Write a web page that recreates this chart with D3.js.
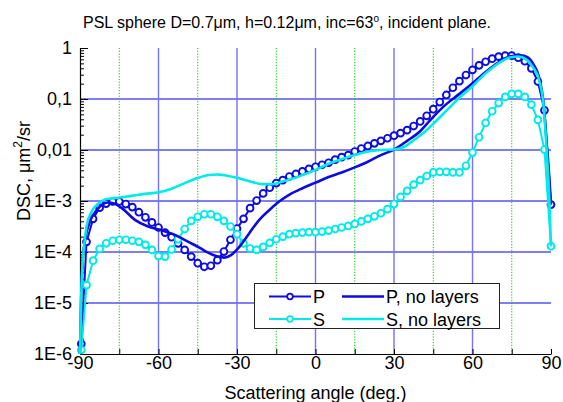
<!DOCTYPE html>
<html><head><meta charset="utf-8">
<script src="https://cdn.jsdelivr.net/npm/d3@7"></script>
<style>
html,body{margin:0;padding:0;background:#fff;}
svg text{font-family:Arial,"Liberation Sans",Helvetica,sans-serif;}
</style></head>
<body><svg id="c" width="563" height="402"></svg>
<script>
// ---- data ----
const titleText = "PSL sphere D=0.7\u03BCm, h=0.12\u03BCm, inc=63";
const xTickValues = [-90, -60, -30, 0, 30, 60, 90];
const xMinorTicks = [-75, -45, -15, 15, 45, 75];
const yTickValues = [1e-6, 1e-5, 1e-4, 1e-3, 1e-2, 1e-1, 1];
const yTickLabels = ["1E-6", "1E-5", "1E-4", "1E-3", "0,01", "0,1", "1"];
const legendNames = ["P", "S", "P, no layers", "S, no layers"];

// angles of the marker series (deg)
const markerAngles = [-89.5, -87.5, -85, -82.5, -80, -77.5, -75, -72.5, -70, -67.5, -65, -62.5, -60, -57.5, -55, -52.5, -50, -47.5, -45, -42.5, -40, -37.5, -35, -32.5, -30, -27.5, -25, -22.5, -20, -17.5, -15, -12.5, -10, -7.5, -5, -2.5, 0, 2.5, 5, 7.5, 10, 12.5, 15, 17.5, 20, 22.5, 25, 27.5, 30, 32.5, 35, 37.5, 40, 42.5, 45, 47.5, 50, 52.5, 55, 57.5, 60, 62.5, 65, 67.5, 70, 72.5, 75, 77.5, 80, 82.5, 85, 87.5, 90];
const pValues = [1.58e-6, 1.58e-4, 4.47e-4, 7.41e-4, 8.91e-4, 9.77e-4, 9.77e-4, 8.71e-4, 7.59e-4, 6.03e-4, 4.79e-4, 3.80e-4, 3.02e-4, 2.40e-4, 1.95e-4, 1.48e-4, 1.10e-4, 8.13e-5, 6.03e-5, 5.13e-5, 5.37e-5, 6.92e-5, 1.02e-4, 1.74e-4, 2.88e-4, 4.47e-4, 7.24e-4, 1.02e-3, 1.41e-3, 1.82e-3, 2.24e-3, 2.57e-3, 3.02e-3, 3.39e-3, 3.80e-3, 4.27e-3, 4.68e-3, 5.13e-3, 5.62e-3, 6.46e-3, 7.24e-3, 7.94e-3, 9.33e-3, 1.07e-2, 1.20e-2, 1.35e-2, 1.51e-2, 1.70e-2, 1.91e-2, 2.14e-2, 2.45e-2, 2.95e-2, 3.63e-2, 4.68e-2, 6.31e-2, 8.71e-2, 0.120, 0.166, 0.224, 0.295, 0.372, 0.457, 0.537, 0.617, 0.676, 0.708, 0.708, 0.646, 0.550, 0.398, 0.220, 0.0600, 8.5e-4];
const sValues = [1.2e-6, 2.24e-5, 6.76e-5, 1.15e-4, 1.48e-4, 1.66e-4, 1.74e-4, 1.74e-4, 1.66e-4, 1.58e-4, 1.38e-4, 1.10e-4, 8.32e-5, 8.13e-5, 1.12e-4, 1.78e-4, 2.82e-4, 4.07e-4, 4.90e-4, 5.50e-4, 5.50e-4, 4.90e-4, 4.07e-4, 3.16e-4, 2.24e-4, 1.48e-4, 1.17e-4, 1.10e-4, 1.26e-4, 1.51e-4, 1.78e-4, 2.00e-4, 2.24e-4, 2.34e-4, 2.40e-4, 2.45e-4, 2.45e-4, 2.51e-4, 2.63e-4, 2.82e-4, 3.02e-4, 3.24e-4, 3.55e-4, 3.98e-4, 4.47e-4, 5.01e-4, 5.75e-4, 6.92e-4, 8.71e-4, 1.20e-3, 1.58e-3, 2.09e-3, 2.57e-3, 3.09e-3, 3.63e-3, 3.72e-3, 3.72e-3, 3.63e-3, 3.63e-3, 4.90e-3, 8.91e-3, 1.78e-2, 3.39e-2, 5.75e-2, 8.32e-2, 0.110, 0.126, 0.126, 0.110, 0.0776, 0.0389, 0.0102, 1.3e-4];

// no-layer curves
const pNoLayerAngles = [-90, -89.5, -89, -88, -86.2, -83.6, -81.7, -79.5, -77, -74, -69, -64, -59, -54, -48.6, -43.5, -41.8, -38, -34.8, -32.3, -29.1, -25.3, -21.5, -17.7, -13.9, -10.1, -5, 0, 5, 10, 15, 20, 25, 30, 35, 40, 45, 50, 55, 60, 65, 70, 74.7, 78.3, 81, 83.4, 85.5, 87.2, 88.4, 89.3, 90];
const pNoLayerValues = [1e-6, 1.58e-5, 6.31e-5, 1.78e-4, 3.98e-4, 6.61e-4, 8.32e-4, 9.33e-4, 8.91e-4, 7.24e-4, 4.27e-4, 3.16e-4, 2.69e-4, 2.19e-4, 1.58e-4, 1.15e-4, 1.02e-4, 8.32e-5, 7.76e-5, 8.71e-5, 1.26e-4, 2.34e-4, 4.27e-4, 6.61e-4, 9.77e-4, 1.32e-3, 1.78e-3, 2.29e-3, 2.95e-3, 3.63e-3, 4.57e-3, 5.89e-3, 7.94e-3, 1.02e-2, 1.51e-2, 2.34e-2, 4.47e-2, 7.94e-2, 0.126, 0.204, 0.339, 0.525, 0.692, 0.72, 0.66, 0.468, 0.26, 0.0794, 0.0126, 3.2e-3, 8.51e-4];
const sNoLayerAngles = [-90, -89.5, -89, -88.5, -87.5, -85.5, -83, -80.4, -77.9, -74.9, -70.3, -65.2, -59.8, -55, -50, -45.6, -40.6, -37.5, -35.5, -30.4, -25.3, -20.2, -16.4, -12.6, -7.5, -2.4, 0, 5, 10, 15, 20, 25, 30, 34.2, 38, 41.8, 45.3, 50.4, 55.5, 60, 64.5, 69.6, 74.7, 77.5, 80.5, 83, 85.5, 87.2, 88.4, 89.3, 90];
const sNoLayerValues = [1e-6, 1.58e-5, 6.31e-5, 1.20e-4, 3.16e-4, 6.31e-4, 8.91e-4, 1.07e-3, 1.12e-3, 1.17e-3, 1.26e-3, 1.38e-3, 1.48e-3, 1.74e-3, 2.24e-3, 2.75e-3, 3.24e-3, 3.31e-3, 3.24e-3, 2.88e-3, 2.45e-3, 2.14e-3, 2.14e-3, 2.40e-3, 2.88e-3, 3.63e-3, 4.07e-3, 5.37e-3, 6.61e-3, 7.94e-3, 9.33e-3, 1.00e-2, 1.02e-2, 1.17e-2, 1.62e-2, 2.29e-2, 3.39e-2, 6.17e-2, 0.112, 0.178, 0.302, 0.490, 0.661, 0.68, 0.60, 0.427, 0.23, 0.0708, 0.0089, 1.3e-3, 1.29e-4];

// ---- layout ----
const L = 80, R = 551, T = 48, B = 354;
const colP = "#0c0ce0", colS = "#00eaea";
const FS = 18;
const svg = d3.select("#c");
const x = d3.scaleLinear().domain([-90, 90]).range([L, R]);
const y = d3.scaleLog().domain([1e-6, 1]).range([B, T]);

// gridlines
const g = svg.append("g");
g.selectAll("line.hg").data(yTickValues.filter(v => v > 1e-6 && v < 1)).join("line")
  .attr("x1", L).attr("x2", R).attr("y1", d => y(d)).attr("y2", d => y(d))
  .attr("stroke", "#0000e0").attr("stroke-width", 1.1);
g.selectAll("line.vb").data(xTickValues.filter(v => v > -90 && v < 90)).join("line")
  .attr("x1", d => x(d)).attr("x2", d => x(d)).attr("y1", T).attr("y2", B)
  .attr("stroke", "#7373ff").attr("stroke-width", 1.4);
g.selectAll("line.vg").data(xMinorTicks).join("line")
  .attr("x1", d => x(d)).attr("x2", d => x(d)).attr("y1", T).attr("y2", B)
  .attr("stroke", "#00cc00").attr("stroke-width", 1).attr("stroke-dasharray", "1.2,1.6");

// axes
const majorSet = new Set(yTickValues.map(v => v.toExponential()));
const yMinor = y.ticks().filter(v => !majorSet.has(v.toExponential()));
svg.append("g").attr("transform", `translate(${L},0)`)
  .call(d3.axisLeft(y).tickValues(yMinor).tickSizeInner(-4).tickSizeOuter(0).tickFormat(""))
  .call(a => a.select(".domain").remove())
  .call(a => a.selectAll("line").attr("stroke", "#000"));
const yAxis = svg.append("g").attr("transform", `translate(${L},0)`)
  .call(d3.axisLeft(y).tickValues(yTickValues).tickSizeInner(-8).tickSizeOuter(0).tickPadding(8)
    .tickFormat((d, i) => yTickLabels[i]));
yAxis.selectAll("text").attr("font-size", FS).attr("fill", "#000").style("font-family", "Arial, 'Liberation Sans', sans-serif");
yAxis.select(".domain").attr("stroke", "#000").attr("stroke-width", 1.2);

const xAxis = svg.append("g").attr("transform", `translate(0,${B})`)
  .call(d3.axisBottom(x).tickValues(xTickValues).tickSizeInner(-5).tickSizeOuter(0).tickPadding(2).tickFormat(d => String(d)));
xAxis.selectAll("text").attr("font-size", FS).attr("fill", "#000").style("font-family", "Arial, 'Liberation Sans', sans-serif");
xAxis.select(".domain").attr("stroke", "#000").attr("stroke-width", 1.2);
svg.append("g").attr("transform", `translate(0,${B})`)
  .call(d3.axisBottom(x).tickValues(xMinorTicks).tickSizeInner(-5).tickSizeOuter(0).tickFormat(""))
  .call(a => a.select(".domain").remove());

// series
const ptsP = markerAngles.map((a, i) => [a, pValues[i]]);
const ptsS = markerAngles.map((a, i) => [a, sValues[i]]);
const ptsPN = pNoLayerAngles.map((a, i) => [a, pNoLayerValues[i]]);
const ptsSN = sNoLayerAngles.map((a, i) => [a, sNoLayerValues[i]]);
const lineLin = d3.line().x(d => x(d[0])).y(d => y(d[1]));
const lineSm = d3.line().x(d => x(d[0])).y(d => y(d[1])).curve(d3.curveMonotoneX);

function markerSeries(pts, col) {
  const gg = svg.append("g");
  gg.append("path").datum(pts).attr("d", lineLin).attr("fill", "none").attr("stroke", col).attr("stroke-width", 2);
  gg.selectAll("circle").data(pts).join("circle")
    .attr("cx", d => x(d[0])).attr("cy", d => y(d[1])).attr("r", 3.4)
    .attr("fill", "#fff").attr("stroke", col).attr("stroke-width", 1.9);
}
markerSeries(ptsP, colP);
markerSeries(ptsS, colS);
svg.append("path").datum(ptsPN).attr("d", lineSm).attr("fill", "none").attr("stroke", colP).attr("stroke-width", 2.6);
svg.append("path").datum(ptsSN).attr("d", lineSm).attr("fill", "none").attr("stroke", colS).attr("stroke-width", 2.6);

// legend
const lg = svg.append("g");
lg.append("rect").attr("x", 254.5).attr("y", 283.5).attr("width", 245).attr("height", 45)
  .attr("fill", "#fff").attr("stroke", "#222").attr("stroke-width", 1);
const legendItems = [
  {name: legendNames[0], col: colP, mk: true, lx: 269, ty: 296.5},
  {name: legendNames[1], col: colS, mk: true, lx: 269, ty: 319},
  {name: legendNames[2], col: colP, mk: false, lx: 342, ty: 296.5},
  {name: legendNames[3], col: colS, mk: false, lx: 342, ty: 319}
];
legendItems.forEach(it => {
  lg.append("line").attr("x1", it.lx).attr("x2", it.lx + 42).attr("y1", it.ty).attr("y2", it.ty)
    .attr("stroke", it.col).attr("stroke-width", it.mk ? 2 : 2.6);
  if (it.mk) lg.append("circle").attr("cx", it.lx + 21).attr("cy", it.ty).attr("r", 2.8)
    .attr("fill", "#fff").attr("stroke", it.col).attr("stroke-width", 1.8);
  lg.append("text").attr("x", it.lx + 44).attr("y", it.ty + 6.5).attr("font-size", FS).text(it.name);
});

// titles
const tt = svg.append("text").attr("x", 287).attr("y", 28).attr("text-anchor", "middle").attr("font-size", 16);
tt.append("tspan").text(titleText);
tt.append("tspan").attr("font-size", 10).attr("dy", -6).text("o");
tt.append("tspan").attr("dy", 6).text(", incident plane.");

svg.append("text").attr("x", x(0)).attr("y", 399).attr("text-anchor", "middle").attr("font-size", FS)
  .text("Scattering angle (deg.)");

const yl = svg.append("text").attr("transform", "translate(30,171) rotate(-90)").attr("text-anchor", "middle").attr("font-size", FS);
yl.append("tspan").text("DSC, \u03BCm");
yl.append("tspan").attr("font-size", 12).attr("dy", -8).text("2");
yl.append("tspan").attr("dy", 8).text("/sr");
</script></body></html>
